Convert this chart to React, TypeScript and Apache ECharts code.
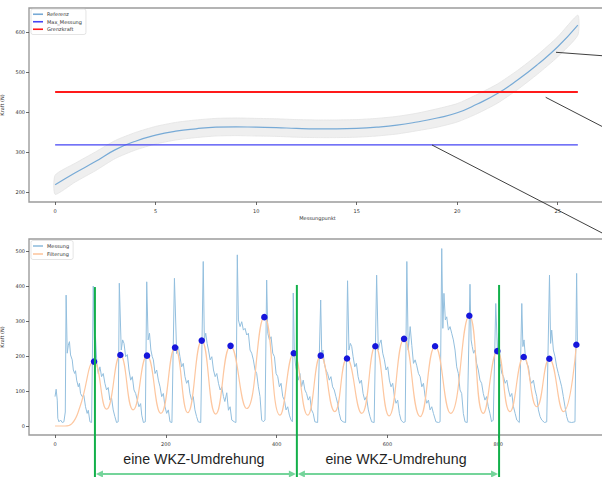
import React, { useEffect, useRef } from 'react';
import * as echarts from 'echarts';

// ---------- top plot data ----------
const refX = [0, 1, 2, 3, 4, 5, 6, 7, 8, 9, 10, 11, 12, 13, 14, 15, 16, 17, 18, 19, 20, 21, 22, 23, 24, 25, 26];
const refY = [218, 248, 276, 306, 327, 342, 352, 358, 362, 363, 362, 361, 359, 358, 358, 359, 362, 367, 375, 385, 398, 420, 446, 480, 519, 563, 617];
const refUpper = [242, 272, 300, 329, 349, 364, 374, 380, 384, 385, 384, 383, 381, 380, 380, 381, 384, 389, 397, 408, 421, 444, 470, 504, 543, 588, 642];
const refLower = [194, 225, 253, 284, 305, 320, 330, 336, 340, 341, 340, 339, 337, 336, 336, 337, 340, 345, 353, 362, 375, 396, 422, 456, 495, 538, 592];
const maxMessung = 318;
const grenzkraft = 450;
const topXTicks = [0, 5, 10, 15, 20, 25];
const topYTicks = [200, 300, 400, 500, 600];

// ---------- bottom plot data ----------
const bottomXTicks = [0, 200, 400, 600, 800];
const bottomYTicks = [0, 100, 200, 300, 400, 500];

const messung: [number, number][] = [
  [0, 84], [2, 105], [4, 74], [5, 22], [7, 12], [10, 17], [13, 10], [16, 12], [18.5, 40],
  [20, 374], [22, 208], [24, 231], [26, 241], [28, 203], [31, 189], [33, 160], [35.5, 150], [37, 158], [39, 131], [42, 112], [44, 122], [46, 93], [49, 84], [52, 88], [55, 55], [58, 36], [60, 45], [63, 12], [66, 10],
  [69, 400], [71, 246], [73, 255], [75.5, 179], [78, 150], [81, 169], [84, 141], [87, 150], [90, 122], [93, 103], [96, 110], [99, 74], [102, 80], [105, 46], [108, 27], [111, 10], [114, 12],
  [116, 408], [119.5, 217], [122, 246], [124.5, 236], [127.5, 198], [130.5, 204], [133.5, 160], [136.5, 131], [139.5, 141], [142.5, 103], [145.5, 93], [148.5, 74], [151.5, 55], [154.5, 64], [156.5, 31], [159.5, 10], [163, 12],
  [165.5, 412], [168, 246], [170.5, 265], [173, 217], [175.5, 198], [177.5, 189], [180.5, 150], [183.5, 160], [186.5, 131], [189.5, 112], [192.5, 84], [195.5, 93], [198.5, 55], [201.5, 36], [204.5, 46], [207.5, 12], [211, 10],
  [215.5, 422], [219.5, 207], [222.5, 227], [225.5, 198], [228.5, 169], [231.5, 179], [234.5, 141], [237.5, 122], [240.5, 131], [243.5, 93], [246.5, 74], [249.5, 84], [252.5, 46], [255.5, 27], [258.5, 12], [263, 10],
  [267.5, 470], [269.5, 246], [272, 265], [274.5, 236], [277, 217], [280, 189], [283, 198], [286, 160], [289, 141], [292, 150], [295, 122], [298, 103], [301, 112], [304, 84], [306.5, 70], [310, 95], [313, 45], [316, 55], [319, 17], [323.5, 12], [326.5, 10],
  [329, 489], [331, 303], [334, 284], [337, 298], [340, 274], [343, 279], [346, 260], [349, 265], [352, 217], [355, 208], [358, 189], [361, 160], [364, 150], [367, 112], [370, 84], [373, 17], [376, 12], [379, 17],
  [382, 417], [384, 265], [387, 246], [390, 255], [393, 208], [396, 198], [399, 150], [402, 141], [405, 112], [408, 122], [411, 84], [414, 74], [417, 46], [420, 55], [423, 31], [426, 17], [428.5, 12],
  [430, 380], [432, 208], [434.5, 169], [437, 150], [439, 131], [442, 150], [445, 112], [448, 131], [451, 103], [454, 93], [457, 74], [460, 84], [463, 46], [466, 36], [469, 12], [474, 10],
  [479.5, 360], [481.5, 198], [483.5, 217], [486, 179], [489, 160], [492, 150], [495, 131], [498, 141], [501, 112], [504, 103], [507, 84], [510, 65], [513, 36], [516, 17], [520, 12], [524.5, 10],
  [528, 415], [530.5, 217], [533, 236], [535.5, 227], [538, 198], [541, 169], [544, 179], [547, 141], [550, 122], [553, 131], [556, 93], [559, 74], [562, 84], [565.5, 46], [568.5, 27], [571.5, 12], [576, 10],
  [580.5, 431], [583.5, 217], [586, 236], [588.5, 246], [591.5, 208], [594.5, 189], [597.5, 160], [600.5, 169], [603.5, 131], [606.5, 112], [609.5, 122], [612.5, 84], [615.5, 65], [618.5, 74], [621.5, 36], [624.5, 17], [628.5, 10], [632, 12],
  [635, 470], [637.5, 217], [639, 246], [641, 284], [644, 230], [647, 179], [650, 189], [653, 172], [656, 150], [659, 141], [662, 112], [665, 122], [668, 84], [671, 65], [674, 74], [677, 46], [680, 55], [683, 36], [687.5, 12], [692, 10], [695, 12],
  [698, 507], [700, 279], [702, 379], [704.5, 303], [707, 312], [710, 274], [713, 284], [716, 265], [719, 246], [722, 217], [725, 169], [728, 150], [731, 103], [734, 93], [737, 36], [740, 12], [744, 10],
  [749, 405], [751, 246], [753, 227], [755.5, 208], [758, 217], [761, 179], [764, 160], [767, 131], [770, 122], [773, 93], [776, 74], [779, 84], [782, 55], [785, 36], [788, 12], [791, 17],
  [795.5, 350], [798.5, 217], [801, 265], [803.5, 179], [806.5, 150], [809.5, 141], [812.5, 122], [815.5, 131], [818.5, 103], [821.5, 84], [824.5, 93], [827.5, 55], [830.5, 36], [833.5, 17], [838, 10],
  [842.5, 350], [844.5, 227], [846.5, 246], [849, 198], [851.5, 179], [854.5, 169], [857.5, 131], [860.5, 122], [863.5, 131], [866.5, 103], [869.5, 84], [872.5, 46], [875.5, 27], [878.5, 17], [883.5, 10], [887.5, 12],
  [892.5, 431], [894.5, 236], [896.5, 274], [899.5, 217], [902.5, 198], [905.5, 169], [908.5, 150], [911.5, 131], [914.5, 112], [917.5, 84], [920.5, 55], [923.5, 27], [926.5, 12], [932.5, 10], [938.5, 12],
  [941.5, 436], [943, 227],
];

const filterung: [number, number][] = [
  [0, 0], [18, 0], [30, 6], [45, 55], [70.4, 184], [93, 48], [117.9, 203], [141, 46], [166, 201], [191, 36],
  [216.6, 224], [239.5, 38], [264.8, 244], [290, 34], [316.8, 229], [346, 50], [377.8, 311], [406, 31],
  [430.9, 208], [456, 31], [479.6, 201], [505, 41], [527, 193], [553.6, 36], [578.2, 228], [603, 29],
  [630, 249], [659, 27], [686, 228], [714, 36], [747.8, 315], [773, 36], [798.4, 214], [821, 41],
  [846, 197], [869.5, 55], [892.2, 192], [917.6, 41], [941, 232],
];

const peaks: [number, number][] = [
  [70.4, 184], [117.9, 203], [166, 201], [216.6, 224], [264.8, 244], [316.8, 229], [377.8, 311], [430.9, 208],
  [479.6, 201], [527, 193], [578.2, 228], [630, 249], [686, 228], [747.8, 315], [798.4, 214], [846, 197],
  [892.2, 192], [941, 232],
];

// WKZ revolution markers (data x) and their top (data y)
const wkzX = [72, 436.5, 801.5];
const wkzTop = [397, 403, 403];
const wkzLabel = 'eine WKZ-Umdrehung';

const FONT = 'DejaVu Sans, sans-serif';

function axisBase(ticks: number[], labelMargin: number) {
  return {
    type: 'value' as const,
    axisLine: { show: false, onZero: false },
    splitLine: { show: false },
    axisTick: { show: true, length: 3, customValues: ticks, lineStyle: { color: '#444', width: 0.8 } },
    axisLabel: { customValues: ticks, fontSize: 5, color: '#333', margin: labelMargin, fontFamily: FONT },
  };
}

export default function App() {
  const ref = useRef<HTMLDivElement>(null);

  useEffect(() => {
    if (!ref.current) return;
    const chart = echarts.init(ref.current, null, { renderer: 'svg' });

    const gridStyle = {
      show: true, borderColor: '#9c9c9c', borderWidth: 1.4, backgroundColor: 'transparent',
      containLabel: false, outerBoundsMode: 'none',
    };

    const option: any = {
      animation: false,
      backgroundColor: '#fff',
      grid: [
        { left: 29, top: 8, width: 577, height: 194, ...gridStyle },
        { left: 29, top: 239, width: 577, height: 196, ...gridStyle },
      ],
      xAxis: [
        {
          ...axisBase(topXTicks, 6), gridIndex: 0, min: -1.3, max: 27.4,
          name: 'Messungpunkt', nameLocation: 'middle', nameGap: 13,
          nameTextStyle: { fontSize: 5, color: '#333', fontFamily: FONT },
        },
        { ...axisBase(bottomXTicks, 6), gridIndex: 1, min: -47, max: 994.5 },
      ],
      yAxis: [
        {
          ...axisBase(topYTicks, 4), gridIndex: 0, min: 175, max: 660,
          name: 'Kraft (N)', nameLocation: 'middle', nameGap: 16, nameRotate: 90,
          nameTextStyle: { fontSize: 5, color: '#333', fontFamily: FONT },
        },
        {
          ...axisBase(bottomYTicks, 4), gridIndex: 1, min: -25.7, max: 534.3,
          name: 'Kraft (N)', nameLocation: 'middle', nameGap: 16, nameRotate: 90,
          nameTextStyle: { fontSize: 5, color: '#333', fontFamily: FONT },
        },
      ],
      legend: [
        {
          left: 31, top: 9, orient: 'vertical', icon: 'rect', itemWidth: 10, itemHeight: 1.6, itemGap: 0,
          padding: [1.5, 4, 1.5, 2], backgroundColor: 'rgba(255,255,255,0.85)', borderColor: '#d4d4d4',
          borderWidth: 0.6, borderRadius: 2, selectedMode: false,
          textStyle: { fontSize: 5, lineHeight: 7.5, color: '#333', fontFamily: FONT, padding: [0, 0, 0, -1] },
          data: ['Referenz', 'Max_Messung', 'Grenzkraft'],
        },
        {
          left: 31, top: 240.5, orient: 'vertical', icon: 'rect', itemWidth: 10, itemHeight: 1.6, itemGap: 0,
          padding: [1.5, 4, 1.5, 2], backgroundColor: 'rgba(255,255,255,0.85)', borderColor: '#d4d4d4',
          borderWidth: 0.6, borderRadius: 2, selectedMode: false,
          textStyle: { fontSize: 5, lineHeight: 8, color: '#333', fontFamily: FONT, padding: [0, 0, 0, -1] },
          data: ['Messung', 'Filterung'],
        },
      ],
      series: [
        {
          type: 'custom', name: 'band', xAxisIndex: 0, yAxisIndex: 0, silent: true, z: 1,
          data: refX.map((x, i) => [x, refLower[i], refUpper[i]]),
          encode: { x: 0, y: [1, 2] },
          renderItem: (params: any, api: any) => {
            if (params.dataIndex !== 0) return null;
            const pts: number[][] = [];
            for (let i = 0; i < refX.length; i++) pts.push(api.coord([refX[i], refUpper[i]]));
            for (let i = refX.length - 1; i >= 0; i--) pts.push(api.coord([refX[i], refLower[i]]));
            return {
              type: 'polygon',
              shape: { points: pts, smooth: 0.2 },
              style: { fill: '#efefef', stroke: '#e3e3e3', lineWidth: 0.8 },
            };
          },
        },
        {
          type: 'line', name: 'Referenz', xAxisIndex: 0, yAxisIndex: 0, smooth: true, symbol: 'none', z: 3,
          data: refX.map((x, i) => [x, refY[i]]),
          itemStyle: { color: '#77aad6' }, lineStyle: { color: '#77aad6', width: 1.2 },
        },
        {
          type: 'line', name: 'Max_Messung', xAxisIndex: 0, yAxisIndex: 0, symbol: 'none', z: 3,
          data: [[refX[0], maxMessung], [refX[refX.length - 1], maxMessung]],
          itemStyle: { color: '#4545f4' }, lineStyle: { color: '#4545f4', width: 1.2 },
        },
        {
          type: 'line', name: 'Grenzkraft', xAxisIndex: 0, yAxisIndex: 0, symbol: 'none', z: 3,
          data: [[refX[0], grenzkraft], [refX[refX.length - 1], grenzkraft]],
          itemStyle: { color: '#ff1a1a' }, lineStyle: { color: '#ff1a1a', width: 2 },
        },
        {
          type: 'line', name: 'Messung', xAxisIndex: 1, yAxisIndex: 1, symbol: 'none', z: 3,
          data: messung,
          itemStyle: { color: '#93bfde' }, lineStyle: { color: '#93bfde', width: 1 },
        },
        {
          type: 'line', name: 'Filterung', xAxisIndex: 1, yAxisIndex: 1, symbol: 'none', smooth: 0.5, z: 3,
          data: filterung,
          itemStyle: { color: '#fdc7a0' }, lineStyle: { color: '#fdc7a0', width: 1.2 },
        },
        {
          type: 'scatter', name: 'Peaks', xAxisIndex: 1, yAxisIndex: 1, symbol: 'circle', symbolSize: 6.5, z: 4,
          data: peaks,
          itemStyle: { color: '#1616dc', opacity: 1 },
        },
      ],
    };

    chart.setOption(option);

    // annotations
    const graphic: any[] = [];
    const black = { stroke: '#2a2a2a', lineWidth: 0.9 };
    graphic.push({ type: 'line', z: 100, shape: { x1: 556, y1: 52.3, x2: 606, y2: 56 }, style: black });
    graphic.push({ type: 'line', z: 100, shape: { x1: 545.7, y1: 97.3, x2: 606, y2: 128.5 }, style: black });
    graphic.push({ type: 'line', z: 100, shape: { x1: 432, y1: 145, x2: 606, y2: 235 }, style: black });

    const px = wkzX.map((x, i) => chart.convertToPixel({ gridIndex: 1 } as any, [x, wkzTop[i]]) as number[]);
    const arrowY = 474;
    const arrowColor = '#74d49a';
    px.forEach((p) => {
      graphic.push({
        type: 'line', z: 110,
        shape: { x1: p[0], y1: p[1], x2: p[0], y2: 480 },
        style: { stroke: '#12b04a', lineWidth: 2 },
      });
    });
    for (let i = 0; i < px.length - 1; i++) {
      const x1 = px[i][0] + 1;
      const x2 = px[i + 1][0] - 1;
      graphic.push({
        type: 'line', z: 105,
        shape: { x1: x1 + 5, y1: arrowY, x2: x2 - 5, y2: arrowY },
        style: { stroke: arrowColor, lineWidth: 2 },
      });
      graphic.push({
        type: 'polygon', z: 105,
        shape: { points: [[x1, arrowY], [x1 + 7, arrowY - 3.5], [x1 + 7, arrowY + 3.5]] },
        style: { fill: arrowColor },
      });
      graphic.push({
        type: 'polygon', z: 105,
        shape: { points: [[x2, arrowY], [x2 - 7, arrowY - 3.5], [x2 - 7, arrowY + 3.5]] },
        style: { fill: arrowColor },
      });
      graphic.push({
        type: 'text', z: 105,
        x: (px[i][0] + px[i + 1][0]) / 2 - 2, y: 459,
        style: {
          text: wkzLabel, fontSize: 14.2, fontFamily: 'Liberation Sans, Arial, sans-serif',
          fill: '#1f1f1f', align: 'center', verticalAlign: 'middle',
        },
      });
    }
    chart.setOption({ graphic });

    return () => chart.dispose();
  }, []);

  return (
    <div style={{ position: 'fixed', left: 0, top: 0, width: 602, height: 477, overflow: 'hidden', background: '#fff' }}>
      <div ref={ref} style={{ width: 620, height: 477 }} />
    </div>
  );
}
